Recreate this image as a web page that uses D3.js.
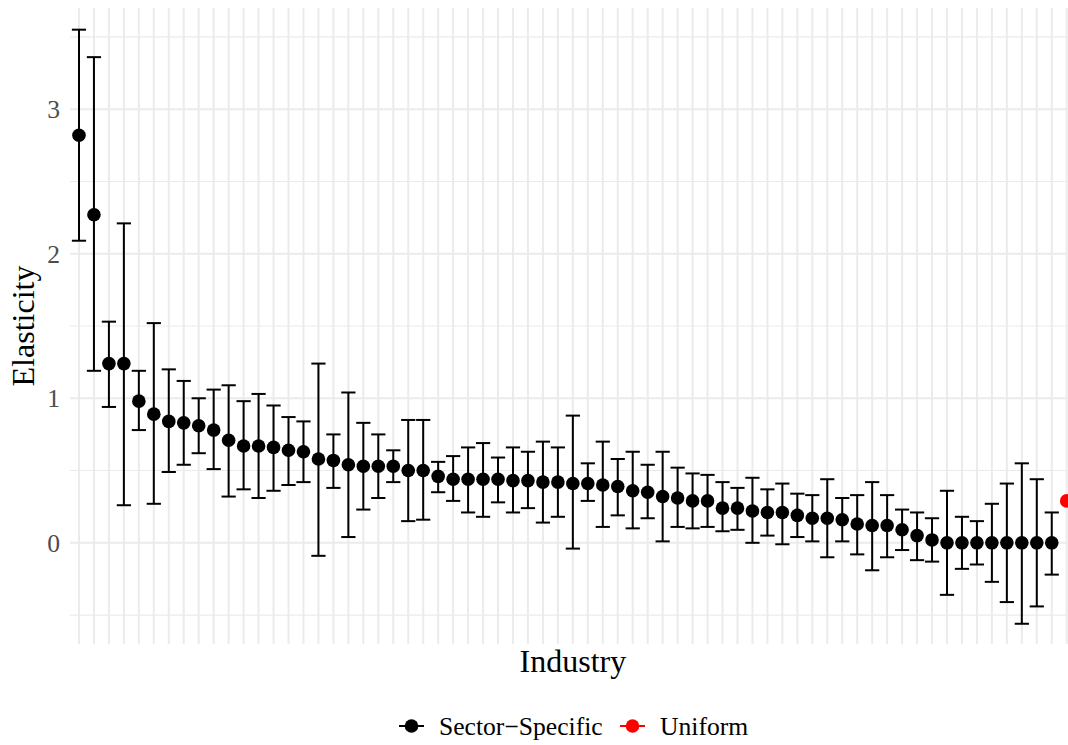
<!DOCTYPE html>
<html>
<head>
<meta charset="utf-8">
<script src="https://cdn.jsdelivr.net/npm/d3@7"></script>
<style>
  html, body { margin: 0; padding: 0; background: #ffffff; overflow: hidden; }
  svg { display: block; }
  text { font-family: "Liberation Serif", "Times New Roman", serif; }
</style>
</head>
<body>
<svg id="chart" width="1068" height="745"></svg>
<script>
// ---- data ----
const sectorEstimates = [2.82, 2.27, 1.24, 1.24, 0.98, 0.89, 0.84, 0.83, 0.81, 0.78,
  0.71, 0.67, 0.67, 0.66, 0.64, 0.63, 0.58, 0.57, 0.54, 0.53,
  0.53, 0.53, 0.50, 0.50, 0.46, 0.44, 0.44, 0.44, 0.44, 0.43,
  0.43, 0.42, 0.42, 0.41, 0.41, 0.40, 0.39, 0.36, 0.35, 0.32,
  0.31, 0.29, 0.29, 0.24, 0.24, 0.22, 0.21, 0.21, 0.19, 0.17,
  0.17, 0.16, 0.13, 0.12, 0.12, 0.09, 0.05, 0.02, 0.00, 0.00,
  0.00, 0.00, 0.00, 0.00, 0.00, 0.00];
const sectorLower = [2.09, 1.19, 0.94, 0.26, 0.78, 0.27, 0.49, 0.54, 0.62, 0.51,
  0.32, 0.37, 0.31, 0.36, 0.40, 0.42, -0.09, 0.38, 0.04, 0.23,
  0.31, 0.42, 0.15, 0.16, 0.35, 0.29, 0.21, 0.18, 0.28, 0.21,
  0.24, 0.14, 0.18, -0.04, 0.29, 0.11, 0.19, 0.10, 0.17, 0.01,
  0.11, 0.10, 0.11, 0.08, 0.09, 0.00, 0.05, -0.01, 0.04, 0.01,
  -0.10, 0.01, -0.08, -0.19, -0.10, -0.05, -0.12, -0.13, -0.36, -0.18,
  -0.15, -0.27, -0.41, -0.56, -0.44, -0.22];
const sectorUpper = [3.55, 3.36, 1.53, 2.21, 1.19, 1.52, 1.20, 1.12, 1.00, 1.06,
  1.09, 0.98, 1.03, 0.95, 0.87, 0.84, 1.24, 0.75, 1.04, 0.83,
  0.75, 0.64, 0.85, 0.85, 0.56, 0.60, 0.66, 0.69, 0.59, 0.66,
  0.63, 0.70, 0.66, 0.88, 0.55, 0.70, 0.58, 0.63, 0.54, 0.63,
  0.52, 0.48, 0.47, 0.42, 0.38, 0.45, 0.37, 0.41, 0.34, 0.33,
  0.44, 0.31, 0.33, 0.42, 0.33, 0.23, 0.21, 0.17, 0.36, 0.18,
  0.15, 0.27, 0.41, 0.55, 0.44, 0.21];
const uniformEstimate = 0.29;
const sectorIndustries = sectorEstimates.map((_, i) => "Industry " + (i + 1));
const uniformIndustry = "Uniform";
const industries = sectorIndustries.concat([uniformIndustry]);
const yMajorTicks = [0, 1, 2, 3];
const yMinorTicks = [-0.5, 0.5, 1.5, 2.5, 3.5];
const seriesNames = ["Sector\u2212Specific", "Uniform"];
const seriesColors = ["#000000", "#ff0000"];
const xTitle = "Industry";
const yTitle = "Elasticity";

// ---- layout ----
const svg = d3.select("#chart");
const panel = { left: 70, right: 1075.7, top: 8, bottom: 644 };
const gridColor = "#ebebeb";

const x = d3.scalePoint().domain(industries).range([panel.left, panel.right]).padding(0.6);
const y = d3.scaleLinear().domain([-0.7, 3.7]).range([panel.bottom, panel.top]);
const step = x.step();

svg.append("rect").attr("width", 1068).attr("height", 745).attr("fill", "#fff");

const grid = svg.append("g");
grid.selectAll("line.ymin").data(yMinorTicks).join("line")
  .attr("x1", panel.left).attr("x2", panel.right)
  .attr("y1", d => y(d)).attr("y2", d => y(d))
  .attr("stroke", gridColor).attr("stroke-width", 1.1);
grid.selectAll("line.ymaj").data(yMajorTicks).join("line")
  .attr("x1", panel.left).attr("x2", panel.right)
  .attr("y1", d => y(d)).attr("y2", d => y(d))
  .attr("stroke", gridColor).attr("stroke-width", 2);
grid.selectAll("line.xmaj").data(industries).join("line")
  .attr("x1", d => x(d)).attr("x2", d => x(d))
  .attr("y1", panel.top).attr("y2", panel.bottom)
  .attr("stroke", gridColor).attr("stroke-width", 2);

// y axis labels via d3 axis
const yAxis = d3.axisLeft(y).tickValues(yMajorTicks).tickSize(0).tickPadding(0).tickFormat(d3.format("d"));
const yg = svg.append("g").attr("transform", "translate(60,0)").call(yAxis);
yg.select(".domain").remove();
yg.selectAll("text")
  .attr("fill", "#4d4d4d")
  .style("font-family", '"Liberation Serif", "Times New Roman", serif')
  .style("font-size", "25.6px")
  .attr("dy", "0.34em");

// error bars
const sectorData = sectorIndustries.map((name, i) => ({
  name, est: sectorEstimates[i], lo: sectorLower[i], hi: sectorUpper[i]
}));
const capW = step * 0.95;
const eb = svg.append("g").attr("stroke", seriesColors[0]).attr("stroke-width", 2).attr("fill", "none");
sectorData.forEach(d => {
  const cx = x(d.name);
  eb.append("line").attr("x1", cx).attr("x2", cx).attr("y1", y(d.hi)).attr("y2", y(d.lo));
  eb.append("line").attr("x1", cx - capW / 2).attr("x2", cx + capW / 2).attr("y1", y(d.hi)).attr("y2", y(d.hi));
  eb.append("line").attr("x1", cx - capW / 2).attr("x2", cx + capW / 2).attr("y1", y(d.lo)).attr("y2", y(d.lo));
});

// points
const r = 6.8;
svg.append("g").selectAll("circle").data(sectorData).join("circle")
  .attr("cx", d => x(d.name)).attr("cy", d => y(d.est)).attr("r", r)
  .attr("fill", seriesColors[0]);
svg.append("circle")
  .attr("cx", x(uniformIndustry)).attr("cy", y(uniformEstimate)).attr("r", r)
  .attr("fill", seriesColors[1]);

// axis titles
svg.append("text")
  .attr("x", (panel.left + panel.right) / 2).attr("y", 672)
  .attr("text-anchor", "middle").style("font-size", "32px").attr("fill", "#000")
  .text(xTitle);
svg.append("text")
  .attr("transform", `translate(33.5,${(panel.top + panel.bottom) / 2}) rotate(-90)`)
  .attr("text-anchor", "middle").style("font-size", "32px").attr("fill", "#000")
  .text(yTitle);

// legend
const legendKeys = [399, 620];
const legendY = 726;
const lg = svg.append("g");
seriesNames.forEach((name, i) => {
  const kx = legendKeys[i];
  lg.append("line").attr("x1", kx).attr("x2", kx + 25).attr("y1", legendY).attr("y2", legendY)
    .attr("stroke", seriesColors[i]).attr("stroke-width", 2);
  lg.append("circle").attr("cx", kx + 12.5).attr("cy", legendY).attr("r", r).attr("fill", seriesColors[i]);
  lg.append("text").attr("x", kx + 40).attr("y", 735)
    .style("font-size", "25.6px").attr("fill", "#000").text(name);
});
</script>
</body>
</html>
